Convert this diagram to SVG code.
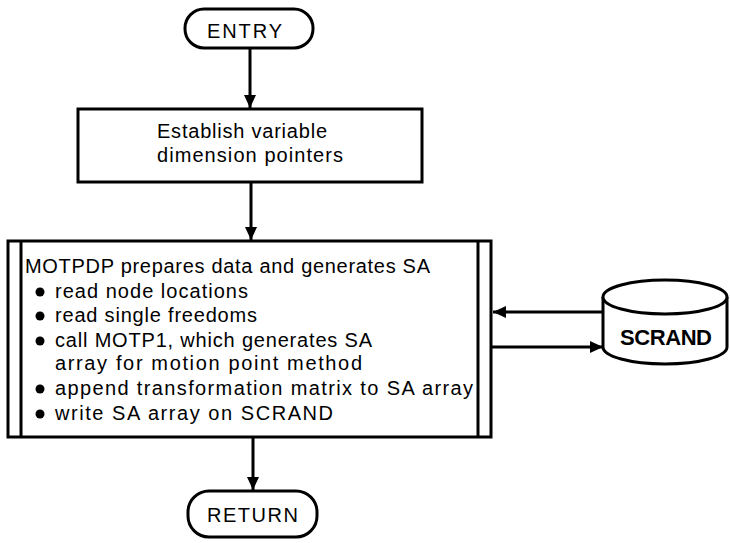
<svg xmlns="http://www.w3.org/2000/svg" width="730" height="543" viewBox="0 0 730 543">
<defs>
<style>
.s{fill:#fff;stroke:#000;stroke-width:3}
.l{fill:none;stroke:#000;stroke-width:3}
.t{font-family:"Liberation Sans",Arial,sans-serif;font-size:20px;fill:#000}
.b{font-family:"Liberation Sans",Arial,sans-serif;font-size:22px;font-weight:bold;fill:#000}
</style>
<marker id="ah" markerWidth="14" markerHeight="12" refX="13" refY="6" orient="auto" markerUnits="userSpaceOnUse">
<path d="M0,0 L13,6 L0,12 Z" fill="#000"/>
</marker>
</defs>
<rect width="730" height="543" fill="#fff"/>
<g id="connectors">
<line class="l" x1="250" y1="48" x2="250" y2="108" marker-end="url(#ah)"/>
<line class="l" x1="251" y1="182" x2="251" y2="240" marker-end="url(#ah)"/>
<line class="l" x1="253" y1="437" x2="253" y2="490" marker-end="url(#ah)"/>
<line class="l" x1="603" y1="312" x2="493" y2="312" marker-end="url(#ah)"/>
<line class="l" x1="491" y1="347" x2="603" y2="347" marker-end="url(#ah)"/>
</g>
<g id="entry">
<rect class="s" x="185" y="9" width="128" height="39" rx="19"/>
<text class="t" x="207" y="38" textLength="75">ENTRY</text>
</g>
<g id="establish">
<rect class="s" x="78" y="109" width="344" height="73"/>
<text class="t" x="157" y="138" textLength="170">Establish variable</text>
<text class="t" x="157" y="162" textLength="186">dimension pointers</text>
</g>
<g id="motpdp">
<rect class="s" x="8" y="241" width="483" height="196"/>
<line class="l" x1="21" y1="241" x2="21" y2="437"/>
<line class="l" x1="478" y1="241" x2="478" y2="437"/>
<text class="t" x="25" y="273" textLength="405">MOTPDP prepares data and generates SA</text>
<circle cx="40" cy="292" r="4.5"/>
<text class="t" x="55" y="298" textLength="193">read node locations</text>
<circle cx="40" cy="316" r="4.5"/>
<text class="t" x="55" y="322" textLength="202">read single freedoms</text>
<circle cx="40" cy="341" r="4.5"/>
<text class="t" x="55" y="347" textLength="317">call MOTP1, which generates SA</text>
<text class="t" x="55" y="370" textLength="307">array for motion point method</text>
<circle cx="40" cy="389" r="4.5"/>
<text class="t" x="55" y="395" textLength="418">append transformation matrix to SA array</text>
<circle cx="40" cy="414" r="4.5"/>
<text class="t" x="55" y="420" textLength="278">write SA array on SCRAND</text>
</g>
<g id="scrand">
<path class="s" d="M603,297 L603,347 A62,17 0 0 0 727,347 L727,297"/>
<ellipse class="s" cx="665" cy="297" rx="62" ry="17"/>
<text class="b" x="620" y="345" textLength="92">SCRAND</text>
</g>
<g id="return">
<rect class="s" x="188" y="491" width="129" height="46" rx="21"/>
<text class="t" x="207" y="522" textLength="91">RETURN</text>
</g>
</svg>
